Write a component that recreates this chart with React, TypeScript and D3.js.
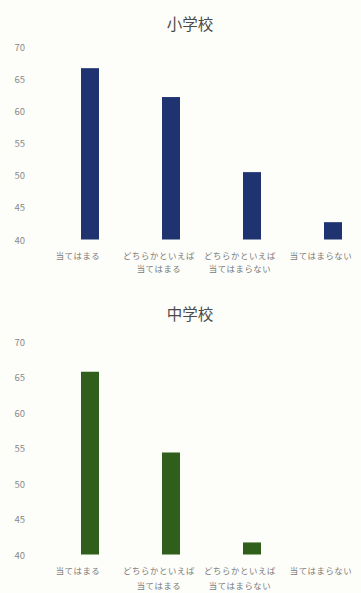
import React from "react";
import * as d3 from "d3";

const categories = ["当てはまる", "どちらかといえば\n当てはまる", "どちらかといえば\n当てはまらない", "当てはまらない"];
const elementaryValues = [66.7, 62.2, 50.5, 42.7];
const juniorValues = [65.8, 54.4, 41.7, 40];
const yTicks = [40, 45, 50, 55, 60, 65, 70];
const titles = ["小学校", "中学校"];
const colors = ["#1e3370", "#2f5f1b"];

const W = 361;
const H = 593;
const FONT = "'Noto Sans CJK JP', 'Noto Sans', sans-serif";

type PanelProps = {
  title: string;
  values: number[];
  color: string;
  titleY: number;
  yTop: number;
  yBase: number;
  labelY: number;
  lineGap: number;
};

function Panel({ title, values, color, titleY, yTop, yBase, labelY, lineGap }: PanelProps) {
  const y = d3.scaleLinear().domain([40, 70]).range([yBase, yTop]);
  const x = d3.scalePoint<string>().domain(categories).range([90, 333]);
  const bw = 18;
  return (
    <g>
      <text x={190} y={titleY} textAnchor="middle" dominantBaseline="central" fontSize={15.5} fill="#4a4a4a" fontFamily={FONT}>
        {title}
      </text>
      {yTicks.map((t) => (
        <text key={t} x={25} y={y(t)} textAnchor="end" dominantBaseline="central" fontSize={9.5} fill="#8a8a8a" fontFamily={FONT}>
          {t}
        </text>
      ))}
      {values.map((v, i) => {
        const c = categories[i];
        const top = y(Math.max(v, 40));
        return (
          <rect key={c} x={(x(c) as number) - bw / 2} y={top} width={bw} height={Math.max(0, yBase - top)} fill={color} />
        );
      })}
      {categories.map((c) => {
        const lines = c.split("\n");
        const cx = (x(c) as number) - 12;
        return (
          <text key={c} x={cx} y={labelY} textAnchor="middle" fontSize={8.4} fill="#7a7a7a" fontFamily={FONT} letterSpacing={0.6}>
            {lines.map((l, j) => (
              <tspan key={j} x={cx} dy={j === 0 ? 0 : lineGap}>
                {l}
              </tspan>
            ))}
          </text>
        );
      })}
    </g>
  );
}

export default function App() {
  return (
    <svg width={W} height={H} style={{ position: "absolute", left: 0, top: 0, background: "#fdfdf9" }}>
      <rect width={W} height={H} fill="#fdfdf9" />
      <Panel title={titles[0]} values={elementaryValues} color={colors[0]} titleY={23} yTop={47} yBase={239.5} labelY={258.5} lineGap={13.5} />
      <Panel title={titles[1]} values={juniorValues} color={colors[1]} titleY={313} yTop={342} yBase={554.5} labelY={573.5} lineGap={15} />
    </svg>
  );
}
